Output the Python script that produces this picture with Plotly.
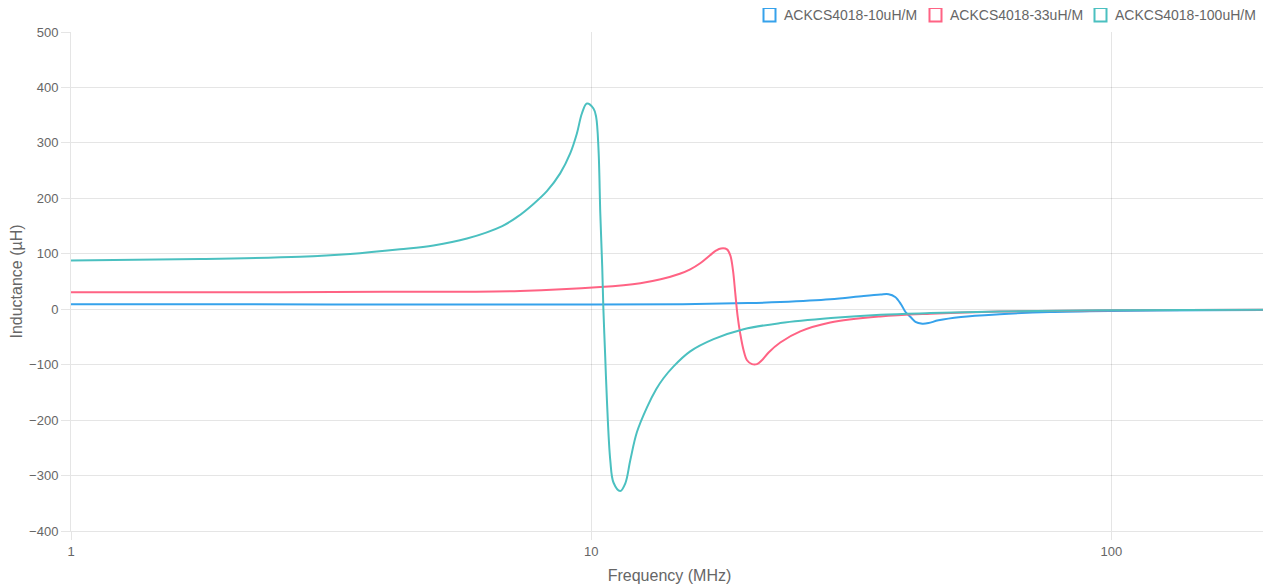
import plotly.graph_objects as go

series_names = ["ACKCS4018-10uH/M", "ACKCS4018-33uH/M", "ACKCS4018-100uH/M"]
series_colors = ["rgb(54,162,235)", "rgb(255,99,132)", "rgb(75,192,192)"]

freq_10uH = [1, 2, 5, 10, 15, 20, 23.1, 28.8, 33.4, 36.0, 37.3, 38.4, 39.4, 40.2, 41.2, 42.0,
             43.3, 44.5, 46.5, 51.4, 61, 76, 100, 150, 200]
ind_10uH = [9, 8.8, 8.5, 8.5, 9, 11, 13, 18, 24, 26.5, 27, 22, 9, -5, -15, -23,
            -26, -25, -20, -14, -9, -5, -3, -2, -1.5]

freq_33uH = [1, 2, 4, 7.3, 10.41, 12.43, 13.6, 14.8, 15.5, 16.2, 16.9, 17.4, 17.76, 18.24, 18.51,
             18.73, 18.92, 19.11, 19.34, 19.63, 19.93, 20.37, 20.83, 21.29, 21.93, 23.09, 25.23,
             28.81, 35.96, 44.88, 61, 100, 200]
ind_33uH = [30.5, 30.5, 31.5, 33, 40, 47, 54, 64, 72, 83, 97, 106, 109.5, 108, 97,
            70, 29, -11, -44, -74, -92, -99, -99, -92, -78, -60, -40,
            -24, -13, -8, -4, -2, -1]

freq_100uH = [1, 1.77, 2.757, 3.44, 4.29, 4.975, 5.77, 6.745, 7.196, 7.745, 8.219, 8.716, 9.112,
              9.386, 9.596, 9.81, 10.10, 10.22, 10.33, 10.41, 10.50, 10.55, 10.64, 10.72, 10.88,
              11.04, 11.37, 11.63, 11.89, 12.24, 12.80, 13.34, 13.77, 14.40, 15.50, 17.19, 19.63,
              23.1, 28.9, 36.0, 44.9, 61, 95, 140, 200]
ind_100uH = [88, 90.5, 94.5, 99.5, 108, 115, 127.5, 150, 166, 190, 213, 245, 281,
             317, 353, 371, 362, 347, 287, 173, 76, 5, -86, -164, -272,
             -313, -328, -314, -272, -222, -177, -144, -124.5, -103, -76, -54, -36,
             -25, -16, -10, -7, -4, -2, -1.5, -1]

x_tick_vals = [1, 10, 100]
x_tick_text = ["1", "10", "100"]
y_tick_vals = [500, 400, 300, 200, 100, 0, -100, -200, -300, -400]

data = [(freq_10uH, ind_10uH), (freq_33uH, ind_33uH), (freq_100uH, ind_100uH)]

# the page body adds an 8px offset; lay the figure out in window pixels
OFF = 8
WIN_W, WIN_H = 1271, 587
W, H = WIN_W - OFF, WIN_H - OFF
PLOT_L, PLOT_R, PLOT_T, PLOT_B = 71, 1268, 32, 531
ML, MR, MT, MB = PLOT_L - OFF, WIN_W - PLOT_R, PLOT_T - OFF, WIN_H - PLOT_B
PW, PH = PLOT_R - PLOT_L, PLOT_B - PLOT_T


def px_to_paper_x(px):
    return (px - PLOT_L) / PW


def px_to_paper_y(py):
    return (PLOT_B - py) / PH


fig = go.Figure()
for (fx, fy), name, color in zip(data, series_names, series_colors):
    fig.add_trace(go.Scatter(x=fx, y=fy, mode="lines", name=name, showlegend=False,
                             line=dict(color=color, width=2, shape="spline", smoothing=1.0),
                             hoverinfo="x+y+name"))

# Chart.js-style legend: outlined boxes followed by labels
legend_box_left = [763.5, 929.5, 1094.5]
shapes, annotations = [], []
for left, name, color in zip(legend_box_left, series_names, series_colors):
    shapes.append(dict(type="rect", xref="paper", yref="paper",
                       x0=px_to_paper_x(left), x1=px_to_paper_x(left + 12),
                       y0=px_to_paper_y(8), y1=px_to_paper_y(21.5),
                       line=dict(color=color, width=2), fillcolor="rgba(0,0,0,0)"))
    annotations.append(dict(text=name, xref="paper", yref="paper",
                            x=px_to_paper_x(left + 18.5), y=px_to_paper_y(15),
                            xanchor="left", yanchor="middle", showarrow=False,
                            font=dict(size=14, color="#666")))

grid = "rgba(0,0,0,0.1)"
fig.update_layout(
    width=W, height=H,
    margin=dict(l=ML, r=MR, t=MT, b=MB),
    paper_bgcolor="white", plot_bgcolor="white",
    font=dict(family="Liberation Sans, Arial, sans-serif", size=13, color="#666"),
    showlegend=False,
    shapes=shapes, annotations=annotations,
    xaxis=dict(type="log", range=[0, 2.301], tickvals=x_tick_vals, ticktext=x_tick_text,
               showgrid=True, gridcolor=grid, gridwidth=1, zeroline=False,
               showline=True, linecolor=grid, linewidth=1, automargin=False,
               ticks="outside", ticklen=8, tickcolor=grid,
               tickfont=dict(size=13, color="#666"),
               title=dict(text="Frequency (MHz)", font=dict(size=16, color="#666"), standoff=12)),
    yaxis=dict(range=[-400, 500], tickvals=y_tick_vals, showgrid=True, gridcolor=grid,
               gridwidth=1, zeroline=False, showline=True, linecolor=grid, linewidth=1,
               automargin=False, ticks="outside", ticklen=9, tickcolor=grid,
               tickfont=dict(size=13, color="#666"),
               title=dict(text="Inductance (µH)", font=dict(size=16, color="#666"), standoff=3)),
)

fig.write_html("out.html")
